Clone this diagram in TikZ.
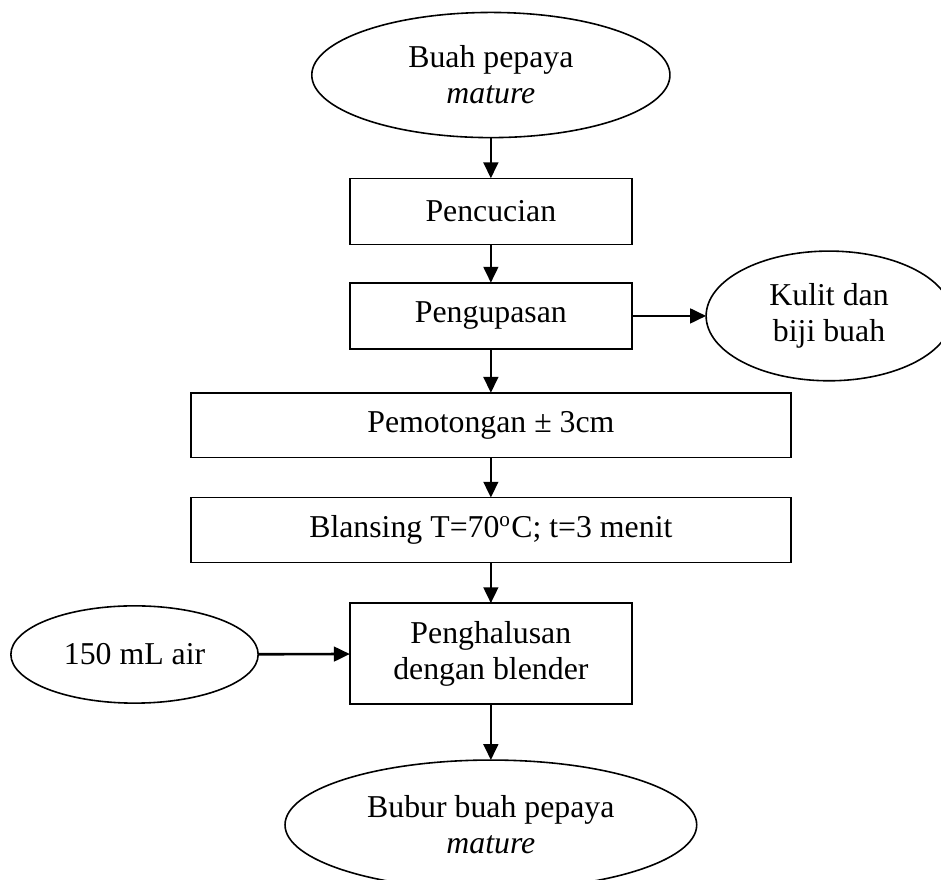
\documentclass[tikz,border=0pt]{standalone}
\usepackage{fontspec}
\setmainfont{Liberation Serif}
\usepackage{tikz}
\usetikzlibrary{
	arrows.meta,
	shapes.geometric,
	}

\begin{document}
\begin{tikzpicture}[stepbox/.style={draw,line width=0.6pt,shape=rectangle,minimum width=3.74cm,minimum height=0.88cm,inner sep=0pt,outer sep=0pt,align=center},widebox/.style={stepbox,minimum width=7.96cm,minimum height=0.86cm},endpoint/.style={draw,line width=0.6pt,shape=ellipse,inner sep=0pt,outer sep=0pt,align=center},flow/.style={line width=1pt,-{Triangle[length=6pt,width=5.5pt]}},font=\fontsize{12}{13.6}\selectfont]
\useasboundingbox (0,0) rectangle (12.48,-11.66);
\clip (0,0) rectangle (12.48,-11.66);
\node[endpoint,minimum width=4.75cm,minimum height=1.66cm] (buah) at (6.51,-0.995) {Buah pepaya\\\textit{mature}};
\node[stepbox] (cuci) at (6.51,-2.805) {Pencucian};
\node[stepbox] (kupas) at (6.51,-4.19) {Pengupasan};
\node[endpoint,minimum width=3.26cm,minimum height=1.72cm] (kulit) at (10.995,-4.19) {Kulit dan\\biji buah};
\node[widebox] (potong) at (6.51,-5.64) {Pemotongan ± 3cm};
\node[widebox] (blansing) at (6.51,-7.03) {Blansing T=70\textsuperscript{o}C; t=3 menit};
\node[stepbox,minimum height=1.34cm] (halus) at (6.51,-8.67) {Penghalusan\\dengan blender};
\node[endpoint,minimum width=3.28cm,minimum height=1.29cm] (air) at (1.784,-8.68) {150 mL air};
\node[endpoint,minimum width=5.46cm,minimum height=1.72cm] (bubur) at (6.51,-10.94) {Bubur buah pepaya\\\textit{mature}};
\draw[flow] (buah) -- (cuci);
\draw[flow] (cuci) -- (kupas);
\draw[flow] (kupas) -- (kulit);
\draw[flow] (kupas) -- (potong);
\draw[flow] (potong) -- (blansing);
\draw[flow] (blansing) -- (halus);
\draw[flow] (air) -- (halus);
\draw[flow] (halus) -- (bubur);
\end{tikzpicture}
\end{document}
